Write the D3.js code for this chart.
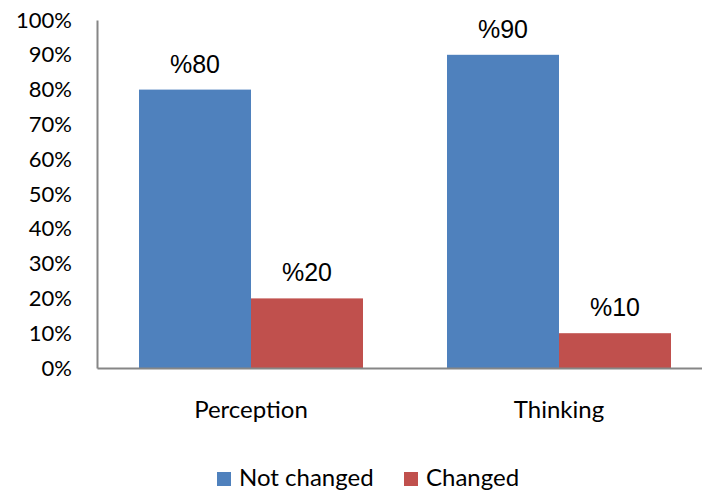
<!DOCTYPE html>
<html>
<head>
<meta charset="utf-8">
<script src="https://cdn.jsdelivr.net/npm/d3@7"></script>
<style>
  body { margin: 0; background: #fff; }
  .tick text { font-family: Lato, "Open Sans", sans-serif; }
</style>
</head>
<body>
<div id="chart-area"></div>
<script>
// data
var categories = ["Perception", "Thinking"];
var seriesNames = ["Not changed", "Changed"];
var notChanged = [80, 90];
var changed = [20, 10];
var yTicks = [0, 10, 20, 30, 40, 50, 60, 70, 80, 90, 100];
var colors = ["#4F81BD", "#C0504D"];

var width = 702, height = 493;

var svg = d3.select("#chart-area").append("svg")
    .attr("width", width)
    .attr("height", height);

// Scales
var y = d3.scaleLinear()
    .domain([0, 100])
    .range([368, 20]);

var x0 = d3.scaleBand()
    .domain(categories)
    .range([97, 713])
    .paddingInner(0)
    .paddingOuter(0);

var x1 = d3.scaleBand()
    .domain(seriesNames)
    .range([42, x0.bandwidth() - 42]);

var rows = categories.map(function(c, i) {
    return { cat: c, values: [notChanged[i], changed[i]] };
});

// bars
var group = svg.selectAll(".grp")
    .data(rows)
    .enter().append("g")
    .attr("class", "grp")
    .attr("transform", function(d) { return "translate(" + x0(d.cat) + ",0)"; });

group.selectAll("rect")
    .data(function(d) { return d.values.map(function(v, j) { return { name: seriesNames[j], v: v, j: j }; }); })
    .enter().append("rect")
    .attr("x", function(d) { return x1(d.name); })
    .attr("y", function(d) { return y(d.v); })
    .attr("width", x1.bandwidth())
    .attr("height", function(d) { return y(0) - y(d.v); })
    .attr("fill", function(d) { return colors[d.j]; });

group.selectAll(".lbl")
    .data(function(d) { return d.values.map(function(v, j) { return { name: seriesNames[j], v: v }; }); })
    .enter().append("text")
    .attr("class", "lbl")
    .attr("x", function(d) { return x1(d.name) + x1.bandwidth() / 2; })
    .attr("y", function(d) { return y(d.v) - 17; })
    .attr("text-anchor", "middle")
    .style("font-family", "'Liberation Sans', Arial, sans-serif")
    .style("font-size", "25px")
    .style("fill", "#000")
    .text(function(d) { return "%" + d.v; });

// axes
var yAxis = d3.axisLeft(y)
    .tickValues(yTicks)
    .tickSize(0)
    .tickPadding(25)
    .tickFormat(function(d) { return d + "%"; });

var yg = svg.append("g")
    .attr("transform", "translate(97,0)")
    .call(yAxis);
yg.select(".domain").attr("stroke", "#868686").attr("stroke-width", 2);
yg.selectAll("text").style("font-size", "22px").style("fill", "#000");

var xAxis = d3.axisBottom(x0)
    .tickSize(0)
    .tickPadding(33);

var xg = svg.append("g")
    .attr("transform", "translate(0,368)")
    .call(xAxis);
xg.select(".domain").attr("stroke", "#868686").attr("stroke-width", 2);
xg.selectAll("text").style("font-size", "24px").style("fill", "#000");

// legend
var legendX = [217, 404];
var legend = svg.selectAll(".legend")
    .data(seriesNames)
    .enter().append("g")
    .attr("class", "legend")
    .attr("transform", function(d, i) { return "translate(" + legendX[i] + ",472)"; });

legend.append("rect")
    .attr("width", 14)
    .attr("height", 14)
    .attr("fill", function(d, i) { return colors[i]; });

legend.append("text")
    .attr("x", 22)
    .attr("y", 14)
    .style("font-family", "Lato, 'Open Sans', sans-serif")
    .style("font-size", "24px")
    .text(function(d) { return d; });
</script>
</body>
</html>
